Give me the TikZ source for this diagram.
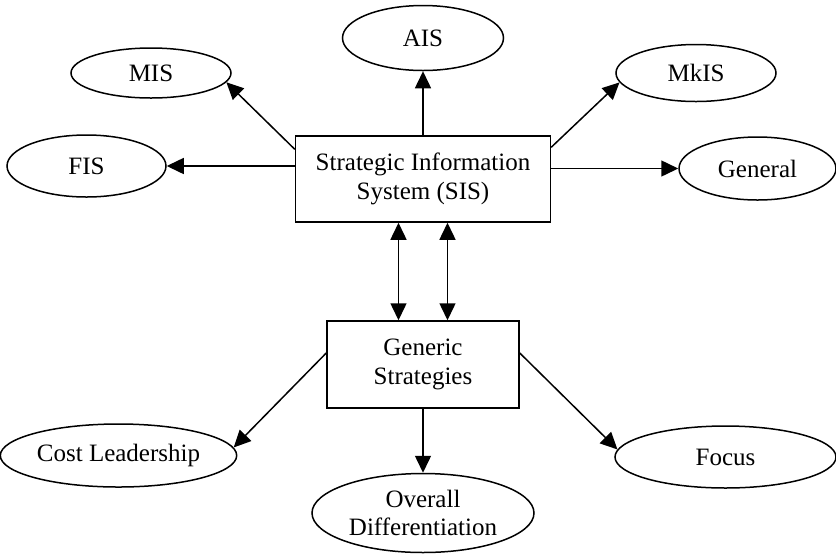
\documentclass[tikz,border=0pt]{standalone}
\usepackage{fontspec}
\setmainfont{Liberation Serif}
\usetikzlibrary{arrows.meta,shapes.geometric}

\begin{document}
\begin{tikzpicture}[x=0.5pt,y=-0.5pt,line width=0.75pt,
		font=\fontsize{12.5}{14.2}\selectfont,
		box/.style={draw,rectangle,align=center,inner sep=1pt},
		oval/.style={draw,ellipse,align=center,inner sep=1pt},
		arr/.style={-{Triangle[length=8.5pt,width=8pt]}},
		arrboth/.style={{Triangle[length=8.5pt,width=8pt]}-{Triangle[length=8.5pt,width=8pt]}}]
				\useasboundingbox (0,0) rectangle (836,553);

				\node[box,minimum width=127.5pt,minimum height=43pt] (sis) at (423,179) {Strategic Information\\System (SIS)};
				\node[box,minimum width=96pt,minimum height=43.5pt] (gen) at (423,364.5) {Generic\\Strategies};

				\node[oval,minimum width=80.5pt,minimum height=32.5pt] (ais) at (423,38) {AIS};
				\node[oval,minimum width=80pt,minimum height=25pt] (mis) at (151,73) {MIS};
				\node[oval,minimum width=80pt,minimum height=28.5pt] (mkis) at (696,73) {MkIS};
				\node[oval,minimum width=79.5pt,minimum height=31pt] (fis) at (86.5,166) {FIS};
				\node[oval,minimum width=78.5pt,minimum height=31.5pt] (general) at (757.5,168.5) {General};

				\node[oval,minimum width=111.5pt,minimum height=31.5pt] (cost) at (118.5,455.5) {Cost Leadership};
				\node[oval,minimum width=111pt,minimum height=39.5pt] (overall) at (423,513) {Overall\\Differentiation};
				\node[oval,minimum width=110.5pt,minimum height=31pt] (focus) at (725.5,457) {Focus};

				\draw [arr] (sis) to (ais);
				\draw [arr] ([yshift=-7pt]sis.north west) to (mis.-7);
				\draw [arr] ([yshift=-6pt]sis.north east) to (mkis.187);
				\draw [arr] (sis.west |- fis) to (fis.east);
				\draw [arr] (sis.east |- general) to (general.west);

				\draw [arrboth] ([xshift=-12.25pt]sis.south) to ([xshift=-12.25pt]gen.north);
				\draw [arrboth] ([xshift=12.25pt]sis.south) to ([xshift=12.25pt]gen.north);

				\draw [arr] ([yshift=5.75pt]gen.west) to (cost.4);
				\draw [arr] (gen) to (overall);
				\draw [arr] ([yshift=5.75pt]gen.east) to (focus.176);
		\end{tikzpicture}
\end{document}
